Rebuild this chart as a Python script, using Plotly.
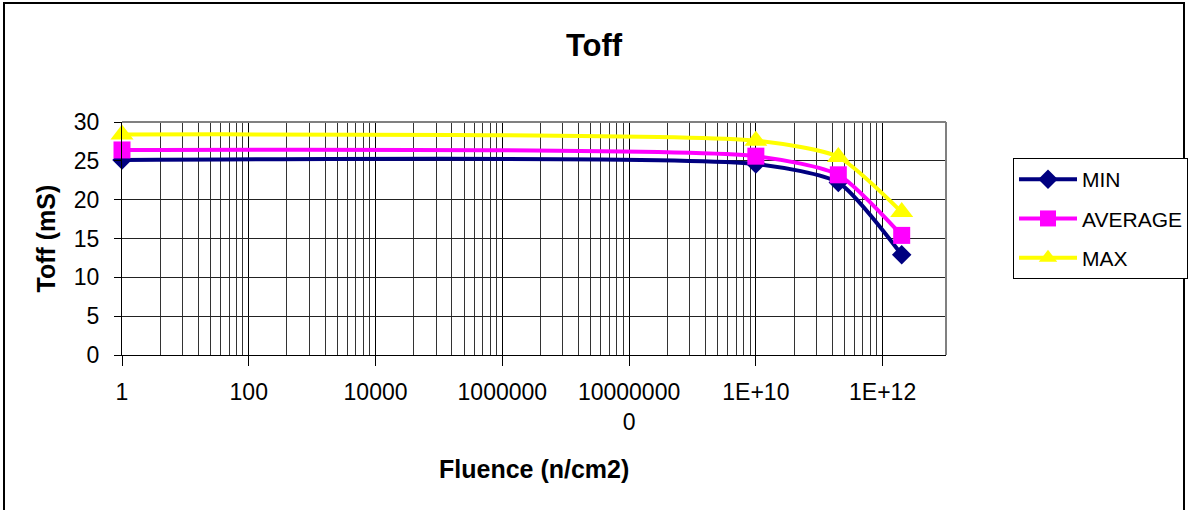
import plotly.graph_objects as go

# ---- data ----
fluence = [1, 1e10, 2e11, 2e12]
toff_min = [25.1, 24.6, 22.2, 12.9]
toff_avg = [26.4, 25.6, 23.2, 15.4]
toff_max = [28.4, 27.6, 25.5, 18.4]
series_names = ["MIN", "AVERAGE", "MAX"]

x_tick_vals = [1, 1e2, 1e4, 1e6, 1e8, 1e10, 1e12]
x_tick_text = ["1", "100", "10000", "1000000", "10000000<br>0", "1E+10", "1E+12"]
y_tick_vals = [0, 5, 10, 15, 20, 25, 30]

FONT = "Liberation Sans, Arial, sans-serif"
W, H = 1188, 510
L, R, T, B = 122, 946, 122, 355   # plot area in pixels


def px_x(p):
    return (p - L) / (R - L)


def px_y(p):
    return (B - p) / (B - T)


# minor gridlines (Excel-style: k^2 * 100^n within each major interval)
minor_vals = [k * k * 100 ** n for n in range(6) for k in range(2, 10)]

styles = [
    dict(color="#000080", symbol="diamond", size=15),
    dict(color="#FF00FF", symbol="square", size=17),
    dict(color="#FFFF00", symbol="triangle-up", size=20),
]
series = [toff_min, toff_avg, toff_max]

fig = go.Figure()
for name, vals, st in zip(series_names, series, styles):
    fig.add_trace(go.Scatter(
        x=fluence, y=vals, name=name, mode="lines+markers",
        legendgroup=name,
        line=dict(color=st["color"], width=4, shape="spline", smoothing=0.6),
        marker=dict(color=st["color"], symbol=st["symbol"], size=st["size"],
                    line=dict(width=0)),
        cliponaxis=False,
    ))

fig.update_layout(
    width=W, height=H,
    margin=dict(l=L, r=W - R, t=T, b=H - B, pad=0, autoexpand=False),
    paper_bgcolor="white", plot_bgcolor="white",
    font=dict(family=FONT, size=23, color="black"),
    title=dict(text="<b>Toff</b>", x=0.5, xanchor="center", xref="container",
               y=1 - 45 / H, yanchor="middle", yref="container",
               font=dict(size=31, family=FONT, color="black")),
    showlegend=True,
    legend=dict(x=px_x(1013), y=px_y(158), xanchor="left", yanchor="top",
                bordercolor="black", borderwidth=1, bgcolor="white",
                font=dict(size=21, family=FONT, color="black"),
                traceorder="grouped", tracegroupgap=9, itemwidth=58),
)

fig.update_xaxes(
    type="log", range=[0, 13],
    tickmode="array", tickvals=x_tick_vals, ticktext=x_tick_text,
    ticks="outside", ticklen=10, tickcolor="black", tickwidth=1,
    showgrid=True, gridcolor="black", gridwidth=1,
    showline=True, linecolor="black", linewidth=1,
    minor=dict(tickmode="array", tickvals=minor_vals, showgrid=True,
               gridcolor="#333333", gridwidth=1, ticks=""),
    tickfont=dict(size=23, family=FONT, color="black"),
    ticklabelstandoff=6,
    zeroline=False,
)
fig.update_yaxes(
    range=[0, 30], tickmode="array", tickvals=y_tick_vals,
    ticks="outside", ticklen=7, tickcolor="black", tickwidth=1,
    showgrid=True, gridcolor="#222222", gridwidth=1,
    showline=True, linecolor="black", linewidth=1,
    tickfont=dict(size=23, family=FONT, color="black"),
    ticklabelstandoff=10,
    zeroline=False,
)

# axis titles
fig.add_annotation(text="<b>Fluence (n/cm2)</b>", xref="paper", yref="paper",
                   x=0.5, y=px_y(469), xanchor="center", yanchor="middle",
                   showarrow=False, font=dict(size=25, family=FONT, color="black"))
fig.add_annotation(text="<b>Toff (mS)</b>", xref="paper", yref="paper",
                   x=px_x(45), y=0.5, xanchor="center", yanchor="middle",
                   textangle=-90, showarrow=False,
                   font=dict(size=25, family=FONT, color="black"))

# plot-area top/right border (gray) and outer chart frame (black)
fig.add_shape(type="line", xref="paper", yref="paper", x0=0, x1=1, y0=1, y1=1,
              line=dict(color="#808080", width=2))
fig.add_shape(type="line", xref="paper", yref="paper", x0=1, x1=1, y0=0, y1=1,
              line=dict(color="#808080", width=2))
fig.add_shape(type="rect", xref="paper", yref="paper",
              x0=px_x(4), x1=px_x(1184), y0=px_y(514), y1=px_y(3),
              line=dict(color="black", width=2), fillcolor="rgba(0,0,0,0)")

fig.write_html(
    "out.html",
    config={"displayModeBar": False},
    post_script="document.body.style.margin='0';document.body.style.overflow='hidden';",
)
